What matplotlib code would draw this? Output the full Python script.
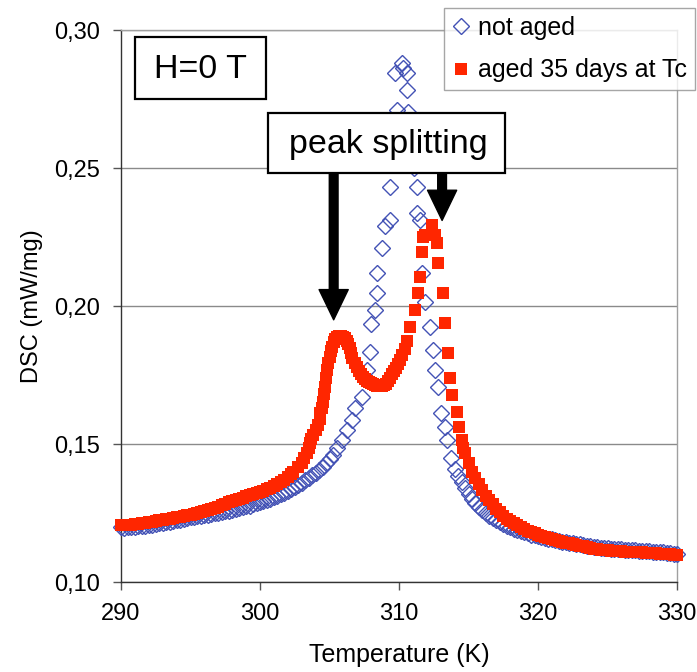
import matplotlib
matplotlib.use('Agg')
import matplotlib.pyplot as plt
from matplotlib.patches import Rectangle

plt.rcParams['font.family'] = ['Liberation Sans', 'DejaVu Sans']

# not aged (blue diamonds)
t_not_aged = [
    290.0, 290.25, 290.5, 290.75, 291.0, 291.25, 291.5, 291.75, 292.0, 292.25,
    292.5, 292.75, 293.0, 293.25, 293.5, 293.75, 294.0, 294.25, 294.5, 294.75,
    295.0, 295.25, 295.5, 295.75, 296.0, 296.25, 296.5, 296.75, 297.0, 297.25,
    297.5, 297.75, 298.0, 298.25, 298.5, 298.75, 299.0, 299.25, 299.5, 299.75,
    300.0, 300.25, 300.5, 300.75, 301.0, 301.25, 301.5, 301.75, 302.0, 302.25,
    302.5, 302.75, 303.0, 303.25, 303.5, 303.75, 304.0, 304.25, 304.5, 304.75,
    305.0, 305.25, 305.52, 305.88, 306.24, 306.6, 306.83, 307.32, 307.68, 307.9,
    308.0, 308.27, 308.4, 308.4, 308.76, 309.0, 309.35, 309.35, 309.5, 309.6,
    309.83, 309.71, 310.19, 310.29, 310.55, 310.55, 310.65, 310.9, 311.1, 311.27,
    311.27, 311.51, 311.63, 311.87, 312.23, 312.45, 312.59, 312.81, 313.02, 313.31,
    313.45, 313.75, 314.0, 314.25, 314.5, 314.75, 315.0, 315.25, 315.5, 315.75,
    316.0, 316.25, 316.5, 316.75, 317.0, 317.25, 317.5, 317.75, 318.0, 318.25,
    318.5, 318.75, 319.0, 319.25, 319.5, 319.75, 320.0, 320.25, 320.5, 320.75,
    321.0, 321.25, 321.5, 321.75, 322.0, 322.25, 322.5, 322.75, 323.0, 323.25,
    323.5, 323.75, 324.0, 324.25, 324.5, 324.75, 325.0, 325.25, 325.5, 325.75,
    326.0, 326.25, 326.5, 326.75, 327.0, 327.25, 327.5, 327.75, 328.0, 328.25,
    328.5, 328.75, 329.0, 329.25, 329.5, 329.75, 330.0,
]
dsc_not_aged = [
    0.1198, 0.1197, 0.1199, 0.1200, 0.1201, 0.1202, 0.1203, 0.1204, 0.1206, 0.1208,
    0.1210, 0.1212, 0.1214, 0.1216, 0.1219, 0.1222, 0.1224, 0.1226, 0.1229, 0.1232,
    0.1234, 0.1236, 0.1238, 0.1240, 0.1242, 0.1244, 0.1246, 0.1249, 0.1251, 0.1253,
    0.1256, 0.1259, 0.1262, 0.1265, 0.1268, 0.1271, 0.1274, 0.1277, 0.1281, 0.1285,
    0.1289, 0.1293, 0.1297, 0.1302, 0.1307, 0.1312, 0.1318, 0.1324, 0.1330, 0.1337,
    0.1344, 0.1352, 0.1360, 0.1368, 0.1377, 0.1386, 0.1396, 0.1406, 0.1418, 0.1430,
    0.1444, 0.1460, 0.1486, 0.1514, 0.1551, 0.1587, 0.1630, 0.1670, 0.1768, 0.1833,
    0.1935, 0.1986, 0.2047, 0.2120, 0.2210, 0.2290, 0.2312, 0.2431, 0.2520, 0.2620,
    0.2710, 0.2844, 0.2880, 0.2862, 0.2844, 0.2783, 0.2703, 0.2600, 0.2500, 0.2431,
    0.2337, 0.2312, 0.2120, 0.2014, 0.1924, 0.1841, 0.1768, 0.1707, 0.1612, 0.1562,
    0.1514, 0.1450, 0.1410, 0.1385, 0.1362, 0.1340, 0.1320, 0.1302, 0.1286, 0.1272,
    0.1260, 0.1250, 0.1240, 0.1232, 0.1224, 0.1216, 0.1210, 0.1204, 0.1198, 0.1193,
    0.1188, 0.1184, 0.1180, 0.1176, 0.1172, 0.1169, 0.1166, 0.1163, 0.1160, 0.1157,
    0.1154, 0.1151, 0.1149, 0.1146, 0.1144, 0.1142, 0.1140, 0.1138, 0.1136, 0.1134,
    0.1132, 0.1130, 0.1128, 0.1126, 0.1125, 0.1123, 0.1122, 0.1121, 0.1120, 0.1119,
    0.1118, 0.1117, 0.1116, 0.1116, 0.1115, 0.1114, 0.1113, 0.1112, 0.1111, 0.1110,
    0.1109, 0.1108, 0.1107, 0.1106, 0.1104, 0.1102, 0.1100,
]

# aged 35 days at Tc (red squares)
t_aged = [
    290.0, 290.25, 290.5, 290.75, 291.0, 291.25, 291.5, 291.75, 292.0, 292.25,
    292.5, 292.75, 293.0, 293.25, 293.5, 293.75, 294.0, 294.25, 294.5, 294.75,
    295.0, 295.25, 295.5, 295.75, 296.0, 296.25, 296.5, 296.75, 297.0, 297.25,
    297.5, 297.75, 298.0, 298.25, 298.5, 298.75, 299.0, 299.25, 299.5, 299.75,
    300.0, 300.25, 300.5, 300.75, 301.0, 301.25, 301.5, 301.75, 302.0, 302.25,
    302.4, 302.7, 303.0, 303.2, 303.36, 303.5, 303.6, 303.7, 303.8, 304.0,
    304.2, 304.3, 304.35, 304.45, 304.55, 304.62, 304.68, 304.75, 304.8, 304.9,
    305.0, 305.1, 305.2, 305.3, 305.4, 305.55, 305.7, 305.85, 306.0, 306.15,
    306.25, 306.35, 306.45, 306.55, 306.65, 306.8, 306.95, 307.1, 307.25, 307.4,
    307.55, 307.7, 307.85, 308.0, 308.15, 308.3, 308.45, 308.6, 308.75, 308.9,
    309.05, 309.2, 309.35, 309.5, 309.65, 309.8, 309.95, 310.1, 310.25, 310.4,
    310.55, 310.8, 311.15, 311.39, 311.51, 311.63, 311.75, 311.87, 312.35, 312.6,
    312.71, 312.83, 313.19, 313.31, 313.55, 313.67, 313.79, 314.15, 314.33, 314.51,
    314.63, 314.75, 315.0, 315.25, 315.5, 315.75, 316.0, 316.25, 316.5, 316.75,
    317.0, 317.25, 317.5, 317.75, 318.0, 318.25, 318.5, 318.75, 319.0, 319.25,
    319.5, 319.75, 320.0, 320.25, 320.5, 320.75, 321.0, 321.25, 321.5, 321.75,
    322.0, 322.25, 322.5, 322.75, 323.0, 323.25, 323.5, 323.75, 324.0, 324.25,
    324.5, 324.75, 325.0, 325.25, 325.5, 325.75, 326.0, 326.25, 326.5, 326.75,
    327.0, 327.25, 327.5, 327.75, 328.0, 328.25, 328.5, 328.75, 329.0, 329.25,
    329.5, 329.75, 330.0,
]
dsc_aged = [
    0.1205, 0.1206, 0.1207, 0.1208, 0.1210, 0.1211, 0.1213, 0.1215, 0.1217, 0.1219,
    0.1221, 0.1223, 0.1225, 0.1227, 0.1229, 0.1231, 0.1234, 0.1236, 0.1238, 0.1241,
    0.1244, 0.1247, 0.1250, 0.1254, 0.1257, 0.1261, 0.1265, 0.1269, 0.1273, 0.1278,
    0.1283, 0.1289, 0.1294, 0.1298, 0.1302, 0.1306, 0.1310, 0.1314, 0.1318, 0.1322,
    0.1326, 0.1331, 0.1336, 0.1342, 0.1348, 0.1355, 0.1362, 0.1370, 0.1380, 0.1390,
    0.1400, 0.1415, 0.1430, 0.1448, 0.1466, 0.1485, 0.1503, 0.1518, 0.1533, 0.1551,
    0.1569, 0.1590, 0.1611, 0.1632, 0.1653, 0.1680, 0.1708, 0.1738, 0.1768, 0.1795,
    0.1816, 0.1836, 0.1853, 0.1870, 0.1882, 0.1888, 0.1890, 0.1890, 0.1889, 0.1884,
    0.1875, 0.1864, 0.1848, 0.1830, 0.1812, 0.1795, 0.1778, 0.1764, 0.1752, 0.1743,
    0.1736, 0.1730, 0.1725, 0.1720, 0.1716, 0.1713, 0.1711, 0.1710, 0.1711, 0.1713,
    0.1718, 0.1728, 0.1740, 0.1752, 0.1764, 0.1776, 0.1790, 0.1806, 0.1823, 0.1845,
    0.1872, 0.1925, 0.1986, 0.2046, 0.2106, 0.2197, 0.2251, 0.2257, 0.2293, 0.2257,
    0.2230, 0.2155, 0.2046, 0.1937, 0.1829, 0.1740, 0.1678, 0.1617, 0.1563, 0.1514,
    0.1486, 0.1466, 0.1430, 0.1400, 0.1378, 0.1355, 0.1335, 0.1313, 0.1298, 0.1282,
    0.1265, 0.1252, 0.1240, 0.1229, 0.1220, 0.1212, 0.1205, 0.1198, 0.1192, 0.1186,
    0.1181, 0.1176, 0.1171, 0.1167, 0.1163, 0.1160, 0.1156, 0.1152, 0.1149, 0.1146,
    0.1143, 0.1140, 0.1137, 0.1135, 0.1132, 0.1129, 0.1126, 0.1123, 0.1121, 0.1119,
    0.1117, 0.1116, 0.1115, 0.1114, 0.1113, 0.1112, 0.1111, 0.1110, 0.1110, 0.1109,
    0.1108, 0.1108, 0.1107, 0.1106, 0.1106, 0.1105, 0.1104, 0.1103, 0.1102, 0.1101,
    0.1100, 0.1099, 0.1098,
]

x_ticks = [290, 300, 310, 320, 330]
x_tick_labels = ['290', '300', '310', '320', '330']
y_ticks = [0.10, 0.15, 0.20, 0.25, 0.30]
y_tick_labels = ['0,10', '0,15', '0,20', '0,25', '0,30']

blue = '#4352b5'
red = '#ff2600'

fig = plt.figure(figsize=(6.97, 6.72), dpi=100)
ax = fig.add_axes([121 / 697, 90 / 672, 556 / 697, 552 / 672])

ax.plot(t_not_aged, dsc_not_aged, linestyle='none', marker='D', markersize=8,
        markerfacecolor='none', markeredgecolor=blue, markeredgewidth=1.0,
        label='not aged', clip_on=False, zorder=3)
ax.plot(t_aged, dsc_aged, linestyle='none', marker='s', markersize=8,
        markerfacecolor=red, markeredgecolor=red, markeredgewidth=0,
        label='aged 35 days at Tc', clip_on=False, zorder=4)

ax.set_xlim(290, 330)
ax.set_ylim(0.10, 0.30)
ax.set_xticks(x_ticks)
ax.set_xticklabels(x_tick_labels)
ax.set_yticks(y_ticks)
ax.set_yticklabels(y_tick_labels)
ax.tick_params(axis='both', labelsize=17, direction='out', length=6, width=1,
               color='#555555')
ax.tick_params(axis='x', pad=9)
ax.tick_params(axis='y', pad=9)

ax.grid(True, axis='y', color='#8a8a8a', linewidth=1)
ax.set_axisbelow(True)
for side in ['left', 'bottom']:
    ax.spines[side].set_color('#333333')
    ax.spines[side].set_linewidth(1)
for side in ['top', 'right']:
    ax.spines[side].set_color('#a0a0a0')
    ax.spines[side].set_linewidth(1)

ax.set_xlabel('Temperature (K)', fontsize=18, labelpad=13)
ax.set_ylabel('DSC (mW/mg)', fontsize=17, labelpad=8)

# legend box in the top right corner
leg = fig.legend(loc='upper right', bbox_to_anchor=(695 / 697, 1 - 8 / 672),
                 fontsize=18, frameon=True, fancybox=False, edgecolor='#909090',
                 handlelength=0.8, handletextpad=0.3, labelspacing=0.75,
                 borderpad=0.3, borderaxespad=0)
leg.get_frame().set_linewidth(1)

# "H=0 T" box
fig.patches.append(Rectangle((135 / 697, 1 - 99 / 672), 131 / 697, 62 / 672,
                             transform=fig.transFigure, facecolor='white',
                             edgecolor='black', linewidth=1.6, zorder=5))
fig.text(200.5 / 697, 1 - 69 / 672, 'H=0 T', fontsize=24.5, ha='center',
         va='center', zorder=6)

# "peak splitting" box
fig.patches.append(Rectangle((268 / 697, 1 - 173 / 672), 237 / 697, 60 / 672,
                             transform=fig.transFigure, facecolor='white',
                             edgecolor='black', linewidth=1.6, zorder=5))
fig.text(388 / 697, 1 - 144 / 672, 'peak splitting', fontsize=24.5, ha='center',
         va='center', zorder=6)

arrow_style = 'simple,head_width=1.4,head_length=1.45,tail_width=0.42'
ax.annotate('', xy=(305.3, 0.1950), xytext=(305.3, 0.2482),
            arrowprops=dict(arrowstyle=arrow_style, mutation_scale=15,
                            facecolor='black', edgecolor='black',
                            shrinkA=0, shrinkB=0), zorder=6)
ax.annotate('', xy=(313.1, 0.2310), xytext=(313.1, 0.2482),
            arrowprops=dict(arrowstyle=arrow_style, mutation_scale=15,
                            facecolor='black', edgecolor='black',
                            shrinkA=0, shrinkB=0), zorder=6)

fig.savefig('out.png', dpi=100)
